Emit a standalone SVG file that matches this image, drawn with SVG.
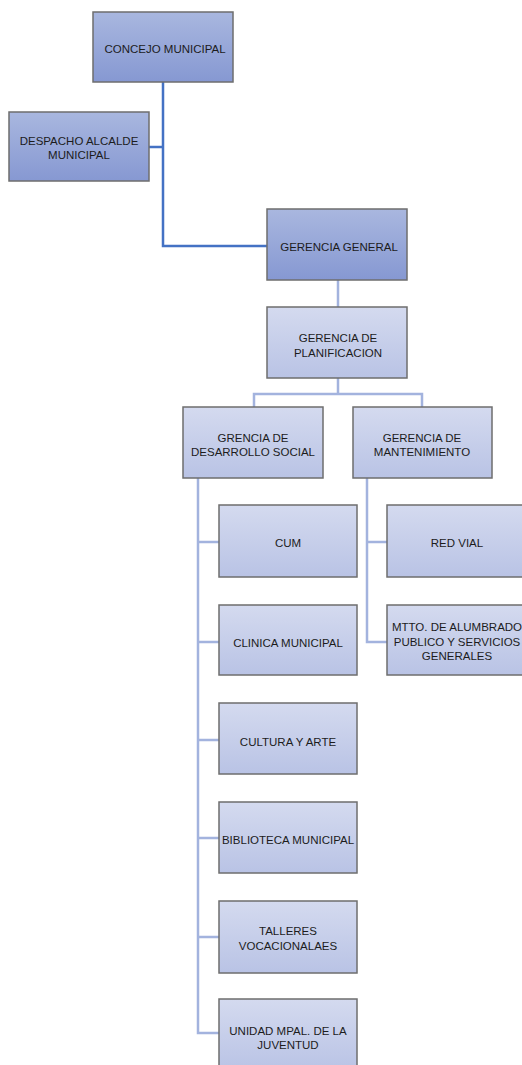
<svg xmlns="http://www.w3.org/2000/svg" width="522" height="1065" viewBox="0 0 522 1065">
  <style>
    .box { stroke: #6e6e6e; stroke-width: 1.5; }
    .dark { fill: url(#gDark); }
    .light { fill: url(#gLight); }
    .lbl { font-family: "Liberation Sans", Arial, sans-serif; font-size: 11.5px; fill: #1c1c1c; text-anchor: middle; }
    .main { fill: none; stroke: #4472c4; stroke-width: 2.5; }
    .sub { fill: none; stroke: #a3b3de; stroke-width: 2.5; }
  </style>
  <defs>
    <linearGradient id="gDark" x1="0" y1="0" x2="0" y2="1">
      <stop offset="0" stop-color="#a9b7df"/>
      <stop offset="1" stop-color="#8698d2"/>
    </linearGradient>
    <linearGradient id="gLight" x1="0" y1="0" x2="0" y2="1">
      <stop offset="0" stop-color="#d4daef"/>
      <stop offset="1" stop-color="#b9c3e5"/>
    </linearGradient>
  </defs>

  <!-- connectors -->
  <g id="connectors">
    <path class="main" d="M163,82 V246 H267"/>
    <path class="main" d="M149,147 H163"/>
    <path class="sub" d="M338,280 V307"/>
    <path class="sub" d="M338,378 V394 M254,407 V394 H422 V407"/>
    <path class="sub" d="M198,478 V1033 H219 M198,542 H219 M198,642 H219 M198,740 H219 M198,838 H219 M198,937 H219"/>
    <path class="sub" d="M367,478 V642 H387 M367,542 H387"/>
  </g>

  <g id="concejo">
    <rect class="box dark" x="93" y="12" width="140" height="70"/>
    <text class="lbl" x="165" y="53">CONCEJO MUNICIPAL</text>
  </g>
  <g id="despacho">
    <rect class="box dark" x="9" y="112" width="140" height="69"/>
    <text class="lbl" x="79" y="145">DESPACHO ALCALDE</text>
    <text class="lbl" x="79" y="159">MUNICIPAL</text>
  </g>
  <g id="gerencia-general">
    <rect class="box dark" x="267" y="209" width="140" height="71"/>
    <text class="lbl" x="339" y="251">GERENCIA GENERAL</text>
  </g>
  <g id="planificacion">
    <rect class="box light" x="267" y="307" width="140" height="71"/>
    <text class="lbl" x="338" y="342">GERENCIA DE</text>
    <text class="lbl" x="338" y="357">PLANIFICACION</text>
  </g>
  <g id="desarrollo-social">
    <rect class="box light" x="183" y="407" width="140" height="71"/>
    <text class="lbl" x="253" y="442">GRENCIA DE</text>
    <text class="lbl" x="253" y="456">DESARROLLO SOCIAL</text>
  </g>
  <g id="mantenimiento">
    <rect class="box light" x="353" y="407" width="139" height="71"/>
    <text class="lbl" x="422" y="442">GERENCIA DE</text>
    <text class="lbl" x="422" y="456">MANTENIMIENTO</text>
  </g>
  <g id="cum">
    <rect class="box light" x="219" y="505" width="138" height="72"/>
    <text class="lbl" x="288" y="547">CUM</text>
  </g>
  <g id="clinica">
    <rect class="box light" x="219" y="605" width="138" height="70"/>
    <text class="lbl" x="288" y="647">CLINICA MUNICIPAL</text>
  </g>
  <g id="cultura">
    <rect class="box light" x="219" y="703" width="138" height="71"/>
    <text class="lbl" x="288" y="746">CULTURA Y ARTE</text>
  </g>
  <g id="biblioteca">
    <rect class="box light" x="219" y="802" width="138" height="71"/>
    <text class="lbl" x="288" y="844">BIBLIOTECA MUNICIPAL</text>
  </g>
  <g id="talleres">
    <rect class="box light" x="219" y="901" width="138" height="72"/>
    <text class="lbl" x="288" y="935">TALLERES</text>
    <text class="lbl" x="288" y="950">VOCACIONALAES</text>
  </g>
  <g id="juventud">
    <rect class="box light" x="219" y="999" width="138" height="72"/>
    <text class="lbl" x="288" y="1035">UNIDAD MPAL. DE LA</text>
    <text class="lbl" x="288" y="1049">JUVENTUD</text>
  </g>
  <g id="red-vial">
    <rect class="box light" x="387" y="505" width="140" height="72"/>
    <text class="lbl" x="457" y="547">RED VIAL</text>
  </g>
  <g id="alumbrado">
    <rect class="box light" x="387" y="605" width="140" height="70"/>
    <text class="lbl" x="457" y="631">MTTO. DE ALUMBRADO</text>
    <text class="lbl" x="457" y="646">PUBLICO Y SERVICIOS</text>
    <text class="lbl" x="457" y="660">GENERALES</text>
  </g>
</svg>
